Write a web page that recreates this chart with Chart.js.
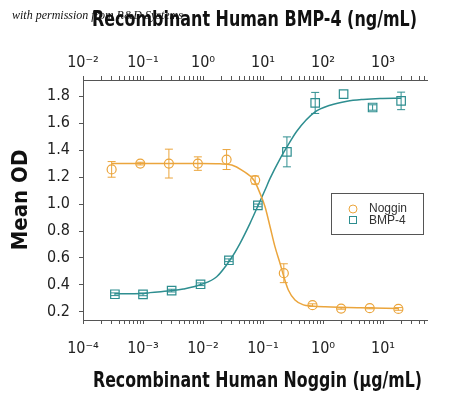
<!DOCTYPE html>
<html>
<head>
<meta charset="utf-8">
<script src="https://cdn.jsdelivr.net/npm/chart.js@4.4.1/dist/chart.umd.min.js"></script>
<style>
  body { margin: 0; background: #fff; }
  #wrap { width: 450px; height: 398px; }
</style>
</head>
<body>
<div id="wrap"><canvas id="myChart" width="450" height="398"></canvas></div>
<script>
// Noggin (bottom axis, ug/mL)
var nogginConc = [0.0003, 0.0009, 0.0027, 0.0082, 0.0247, 0.074, 0.222, 0.667, 2.0, 6.0, 18];
var nogginOD = [1.257, 1.30, 1.30, 1.30, 1.33, 1.178, 0.487, 0.25, 0.225, 0.228, 0.222];
var nogginErr = [0.058, 0.01, 0.107, 0.05, 0.074, 0.03, 0.07, 0.01, 0.005, 0.005, 0.01];

// BMP-4 (top axis, ng/mL)
var bmpConc = [0.034, 0.1, 0.3, 0.91, 2.7, 8.2, 25, 74, 220, 670, 2000];
var bmpOD = [0.331, 0.33, 0.358, 0.405, 0.583, 0.99, 1.387, 1.75, 1.815, 1.716, 1.765];
var bmpErr = [0.01, 0.01, 0.01, 0.01, 0.01, 0.01, 0.111, 0.078, 0, 0.02, 0.065];

// fitted curves
var nogginFitX = [0.0003, 0.0089, 0.0192, 0.0301, 0.0442, 0.0716, 0.0891, 0.108, 0.131, 0.158, 0.192, 0.218, 0.264, 0.341, 0.47, 0.648, 1.08, 4.14, 18];
var nogginFitY = [1.30, 1.30, 1.298, 1.289, 1.252, 1.173, 1.079, 0.98, 0.832, 0.684, 0.56, 0.474, 0.363, 0.289, 0.252, 0.244, 0.238, 0.23, 0.225];
var bmpFitX = [0.034, 0.104, 0.131, 0.313, 0.47, 0.951, 1.69, 2.82, 4.14, 6.07, 8.35, 10.8, 13.1, 19.2, 24.8, 36.5, 73.6, 131, 251, 464, 891, 2000];
var bmpFitY = [0.335, 0.337, 0.343, 0.358, 0.37, 0.405, 0.461, 0.585, 0.709, 0.857, 0.993, 1.104, 1.19, 1.335, 1.42, 1.54, 1.683, 1.733, 1.763, 1.776, 1.783, 1.785];

var yTicks = [0.2, 0.4, 0.6, 0.8, 1.0, 1.2, 1.4, 1.6, 1.8];

var bottomTitle = "Recombinant Human Noggin (\u03BCg/mL)";
var topTitle = "Recombinant Human BMP-4 (ng/mL)";

var orange = "#EBA53C";
var teal = "#2E8E90";
var narrow = "'Liberation Sans Narrow', 'DejaVu Sans Condensed', 'Roboto', sans-serif";

function pairs(xs, ys) {
  return xs.map(function (x, i) { return { x: x, y: ys[i] }; });
}

var sup = { "-": "\u207B", "0": "\u2070", "1": "\u00B9", "2": "\u00B2", "3": "\u00B3", "4": "\u2074",
  "5": "\u2075", "6": "\u2076", "7": "\u2077", "8": "\u2078", "9": "\u2079" };

function powLabel(v) {
  var e = Math.round(Math.log10(v));
  if (Math.abs(v / Math.pow(10, e) - 1) > 1e-6) return "";
  return "10" + String(e).split("").map(function (c) { return sup[c]; }).join("");
}

function keepLogTicks(axis) {
  axis.ticks = axis.ticks.filter(function (t) {
    var m = t.value / Math.pow(10, Math.floor(Math.log10(t.value) + 1e-9));
    return Math.abs(m - Math.round(m)) < 1e-6;
  });
}

// draws the error bars from the data arrays
var errorBars = {
  id: "errorBars",
  afterDatasetsDraw: function (chart) {
    var ctx = chart.ctx;
    chart.data.datasets.forEach(function (ds) {
      if (!ds.errors) return;
      var xs = chart.scales[ds.xAxisID];
      var ys = chart.scales.y;
      ctx.save();
      ctx.strokeStyle = ds.borderColor;
      ctx.lineWidth = 1;
      ds.data.forEach(function (p, i) {
        var e = ds.errors[i];
        if (!e) return;
        var px = xs.getPixelForValue(p.x);
        var top = ys.getPixelForValue(p.y + e);
        var bot = ys.getPixelForValue(p.y - e);
        ctx.beginPath();
        ctx.moveTo(px, top); ctx.lineTo(px, bot);
        ctx.moveTo(px - 4, top); ctx.lineTo(px + 4, top);
        ctx.moveTo(px - 4, bot); ctx.lineTo(px + 4, bot);
        ctx.stroke();
      });
      ctx.restore();
    });
  }
};

// axis titles (squeezed to the original width), boxed legend, credit line
var extras = {
  id: "extras",
  afterDraw: function (chart) {
    var ctx = chart.ctx;
    ctx.save();
    ctx.fillStyle = "#111";
    ctx.font = "bold 21px " + narrow;
    ctx.textAlign = "center";
    ctx.textBaseline = "middle";
    ctx.fillText(topTitle, 254.5, 21, 325);
    ctx.fillText(bottomTitle, 257.5, 382, 329);
    ctx.textAlign = "left";

    ctx.strokeStyle = "#555";
    ctx.lineWidth = 1;
    ctx.strokeRect(331.5, 193.5, 92, 41);
    ctx.strokeStyle = orange;
    ctx.beginPath();
    ctx.arc(353, 209, 4, 0, Math.PI * 2);
    ctx.stroke();
    ctx.strokeStyle = teal;
    ctx.strokeRect(349.5, 216.5, 7, 7);
    ctx.fillStyle = "#333";
    ctx.font = "12px 'Liberation Sans', Arial, sans-serif";
    ctx.fillText("Noggin", 369, 209);
    ctx.fillText("BMP-4", 369, 221);

    ctx.fillStyle = "#111";
    ctx.font = "italic 12px 'Liberation Serif', 'DejaVu Serif', serif";
    ctx.textBaseline = "alphabetic";
    ctx.fillText("with permission from R&D Systems", 12, 19);
    ctx.restore();
  }
};

var ctx = document.getElementById("myChart").getContext("2d");
var myChart = new Chart(ctx, {
  type: "scatter",
  data: {
    datasets: [
      {
        label: "Noggin",
        xAxisID: "x",
        data: pairs(nogginConc, nogginOD),
        errors: nogginErr,
        borderColor: orange,
        backgroundColor: "rgba(0,0,0,0)",
        pointStyle: "circle",
        pointRadius: 4.5,
        borderWidth: 1.2,
        order: 0
      },
      {
        label: "BMP-4",
        xAxisID: "x2",
        data: pairs(bmpConc, bmpOD),
        errors: bmpErr,
        borderColor: teal,
        backgroundColor: "rgba(0,0,0,0)",
        pointStyle: "rect",
        pointRadius: 6,
        borderWidth: 1.2,
        order: 0
      },
      {
        label: "Noggin fit",
        xAxisID: "x",
        data: pairs(nogginFitX, nogginFitY),
        showLine: true,
        cubicInterpolationMode: "monotone",
        borderColor: orange,
        borderWidth: 1.5,
        pointRadius: 0,
        order: 1
      },
      {
        label: "BMP-4 fit",
        xAxisID: "x2",
        data: pairs(bmpFitX, bmpFitY),
        showLine: true,
        cubicInterpolationMode: "monotone",
        borderColor: teal,
        borderWidth: 1.5,
        pointRadius: 0,
        order: 1
      }
    ]
  },
  options: {
    responsive: false,
    animation: false,
    layout: { padding: { right: 23 } },
    plugins: { legend: { display: false }, tooltip: { enabled: false } },
    scales: {
      x: {
        type: "logarithmic",
        position: "bottom",
        min: 0.0001,
        max: 54,
        afterBuildTicks: keepLogTicks,
        afterFit: function (s) { s.height = 78; },
        border: { color: "#555" },
        grid: { drawOnChartArea: false, tickLength: 4, color: "#555" },
        ticks: {
          autoSkip: false, maxRotation: 0, padding: 15, color: "#222",
          font: { family: narrow, size: 16 },
          callback: function (v) { return powLabel(v); }
        }
      },
      x2: {
        type: "logarithmic",
        position: "top",
        min: 0.01,
        max: 5400,
        afterBuildTicks: keepLogTicks,
        afterFit: function (s) { s.height = 80; },
        border: { color: "#555" },
        grid: { drawOnChartArea: false, tickLength: 4, color: "#555" },
        ticks: {
          autoSkip: false, maxRotation: 0, padding: 4, color: "#222",
          font: { family: narrow, size: 16 },
          callback: function (v) { return powLabel(v); }
        }
      },
      y: {
        min: 0.14,
        max: 1.92,
        afterBuildTicks: function (axis) {
          axis.ticks = yTicks.map(function (v) { return { value: v }; });
        },
        afterFit: function (s) { s.width = 83; },
        border: { color: "#555" },
        grid: { drawOnChartArea: false, tickLength: 4, color: "#555" },
        ticks: {
          padding: 9, color: "#222",
          font: { family: narrow, size: 16 },
          callback: function (v) { return v.toFixed(1); }
        },
        title: {
          display: true, text: "Mean OD", color: "#111",
          font: { family: narrow, size: 22, weight: "bold" },
          padding: { top: 8, bottom: 0 }
        }
      }
    }
  },
  plugins: [errorBars, extras]
});
</script>
</body>
</html>
